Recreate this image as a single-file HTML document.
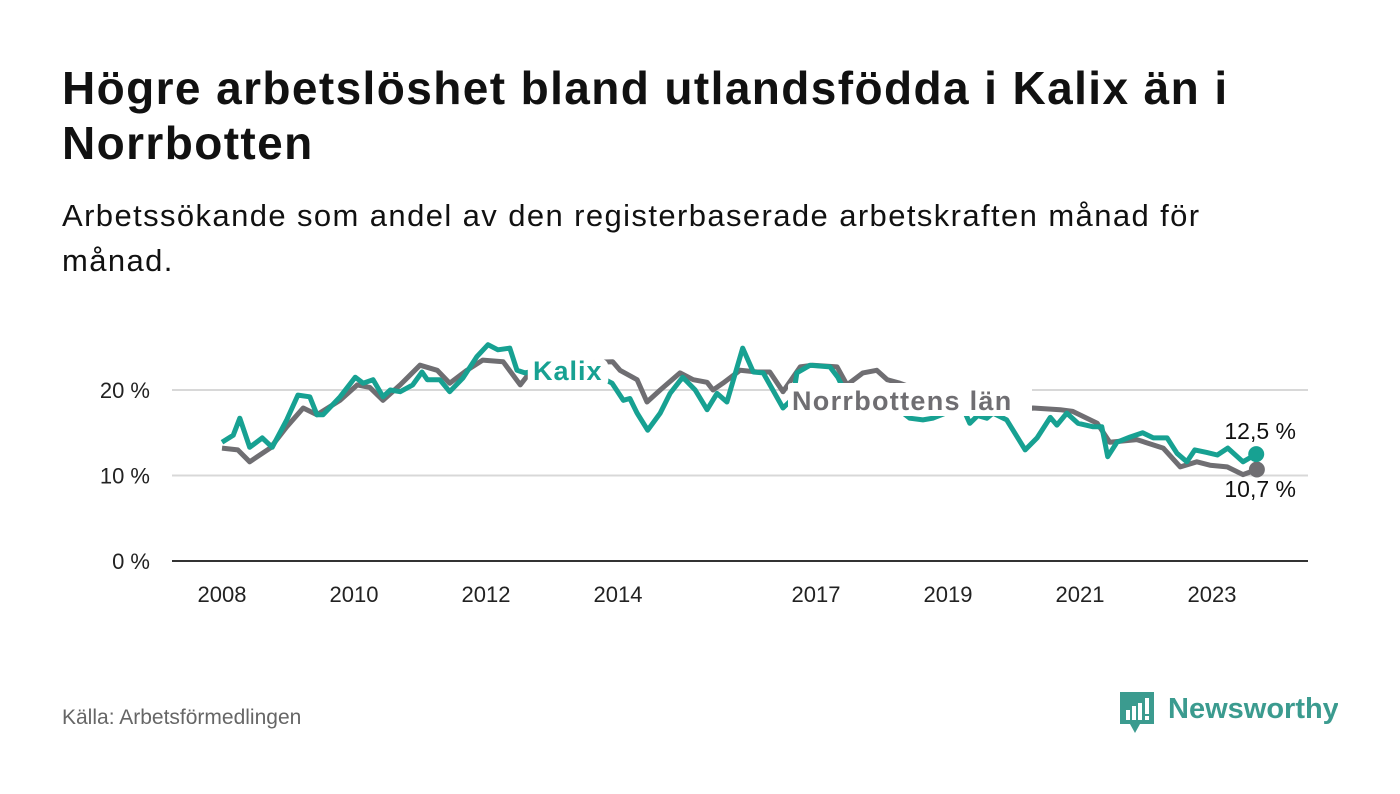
<!DOCTYPE html>
<html><head><meta charset="utf-8"><style>
body{margin:0;background:#fff;width:1400px;height:794px;overflow:hidden;font-family:"Liberation Sans",sans-serif;color:#111}
.t{position:absolute;left:62px;font-weight:bold;font-size:46px;letter-spacing:1.4px;line-height:55px;top:61px;color:#111;width:1330px;white-space:nowrap}
.s{position:absolute;left:62px;top:193px;font-size:31px;letter-spacing:1.4px;line-height:45px;color:#111;width:1330px;white-space:nowrap}
.src{position:absolute;left:62px;top:706px;font-size:21px;color:#666}
</style></head><body>
<div class="t">Högre arbetslöshet bland utlandsfödda i Kalix än i<br>Norrbotten</div>
<div class="s">Arbetssökande som andel av den registerbaserade arbetskraften månad för<br>månad.</div>
<div class="src">Källa: Arbetsförmedlingen</div>
<svg style="position:absolute;left:1118px;top:690px" width="220" height="48">
<path d="M2 2h34v32h-14l-5 9-5-9h-10z" fill="#3b9b8f"/>
<rect x="8" y="20" width="4" height="10" fill="#fff"/><rect x="14" y="16" width="4" height="14" fill="#fff"/><rect x="20" y="13" width="4" height="17" fill="#fff"/><rect x="27" y="8" width="4" height="16" fill="#fff"/><rect x="27" y="26" width="4" height="4" fill="#fff"/>
<text x="50" y="28" font-family="Liberation Sans" font-size="29" font-weight="bold" fill="#3b9b8f">Newsworthy</text>
</svg>
<svg id="c" width="1400" height="794" style="position:absolute;left:0;top:0"></svg>
<script>
const yTicks=[0,10,20];
const xTickYears=[2008,2010,2012,2014,2017,2019,2021,2023];
const kalixDates=[2008.00,2008.17,2008.27,2008.42,2008.61,2008.76,2008.98,2009.15,2009.33,2009.44,2009.53,2009.79,2010.02,2010.14,2010.29,2010.44,2010.55,2010.70,2010.89,2011.03,2011.11,2011.30,2011.45,2011.65,2011.86,2012.03,2012.18,2012.36,2012.47,2012.59,2012.9,2013.3,2013.6,2013.91,2014.08,2014.18,2014.29,2014.45,2014.64,2014.79,2014.98,2015.17,2015.35,2015.50,2015.65,2015.89,2016.05,2016.20,2016.50,2016.65,2016.71,2016.91,2017.21,2017.33,2017.52,2017.82,2018.12,2018.42,2018.62,2018.77,2019.03,2019.26,2019.33,2019.45,2019.59,2019.68,2019.89,2020.17,2020.35,2020.55,2020.65,2020.80,2020.97,2021.20,2021.33,2021.42,2021.56,2021.76,2021.95,2022.11,2022.32,2022.47,2022.62,2022.74,2022.92,2023.08,2023.24,2023.47,2023.67];
const kalixValues=[13.9,14.7,16.7,13.3,14.4,13.3,16.5,19.4,19.2,17.1,17.1,19.2,21.5,20.8,21.2,19.2,20,19.8,20.6,22.1,21.2,21.2,19.8,21.4,23.9,25.3,24.7,24.9,22.3,22,22.5,23,22,20.8,18.8,19,17.3,15.3,17.3,19.6,21.5,20,17.7,19.6,18.6,24.9,22.1,22,17.9,19,22,22.9,22.7,21.5,18.5,20.5,18.5,16.7,16.5,16.7,17.5,17.3,16.1,17,16.7,17.3,16.5,13,14.4,16.8,15.9,17.3,16.1,15.7,15.7,12.2,13.9,14.5,15,14.4,14.4,12.6,11.6,13,12.7,12.4,13.2,11.6,12.5];
const norrDates=[2008.00,2008.24,2008.42,2008.73,2008.98,2009.23,2009.44,2009.79,2010.05,2010.24,2010.44,2010.70,2011.00,2011.26,2011.45,2011.71,2011.95,2012.26,2012.52,2012.64,2013.0,2013.5,2013.92,2014.03,2014.29,2014.44,2014.64,2014.94,2015.14,2015.35,2015.44,2015.59,2015.85,2016.11,2016.30,2016.50,2016.76,2016.95,2017.32,2017.47,2017.71,2017.92,2018.08,2018.27,2018.73,2019.18,2019.64,2020.02,2020.29,2020.70,2020.89,2021.26,2021.45,2021.86,2022.26,2022.52,2022.77,2022.97,2023.23,2023.47,2023.68];
const norrValues=[13.2,13,11.6,13.2,15.7,17.9,17.1,18.8,20.6,20.3,18.8,20.6,22.9,22.3,20.8,22.3,23.5,23.3,20.6,21.8,23,23.2,23.3,22.3,21.2,18.6,20,22,21.2,20.9,20,20.8,22.3,22.1,22.1,19.8,22.7,22.9,22.7,20.6,22,22.3,21.2,20.8,19.5,18.5,18,17.5,17.9,17.7,17.5,16.1,13.9,14.2,13.2,11,11.6,11.2,11,10.1,10.7];
const NS="http://www.w3.org/2000/svg",svg=document.getElementById('c');
const X=t=>222+(t-2008)*66, Y=v=>561-v*8.55;
function mk(tag,at,txt){const e=document.createElementNS(NS,tag);for(const k in at)e.setAttribute(k,at[k]);if(txt!==undefined)e.textContent=txt;svg.appendChild(e);return e;}
yTicks.forEach(v=>{
 if(v>0){const g=mk('line',{x1:172,x2:1308,y1:Y(v),y2:Y(v),stroke:'#d8d8d8','stroke-width':2});
 
 }
 const l=mk('text',{x:150,y:Y(v)+8,'text-anchor':'end','font-size':22,fill:'#222'},v+' %');
 
 
});
const ax=mk('line',{x1:172,x2:1308,y1:561,y2:561,stroke:'#333','stroke-width':2});


xTickYears.forEach(y=>{
 const l=mk('text',{x:X(y),y:602,'text-anchor':'middle','font-size':22,fill:'#222'},String(y));
 
 
});
function line(d,v,col,name){
 const p=mk('path',{d:d.map((t,i)=>(i?'L':'M')+X(t).toFixed(1)+' '+Y(v[i]).toFixed(1)).join(''),fill:'none',stroke:col,'stroke-width':5,'stroke-linejoin':'round'});
 
 
 const c=mk('circle',{cx:X(d[d.length-1]),cy:Y(v[v.length-1]),r:8,fill:col});
 
 
}
line(norrDates,norrValues,'#6f6e72','norrbotten-line');
line(kalixDates,kalixValues,'#17a192','kalix-line');
const lk=mk('text',{x:533,y:380,'font-size':27,'font-weight':'bold',fill:'#17a192',stroke:'#fff','stroke-width':14,'paint-order':'stroke','stroke-linejoin':'round','letter-spacing':1},'Kalix');


const bg=mk('rect',{x:788,y:383,width:244,height:33,fill:'#fff',rx:3});


const ln=mk('text',{x:792,y:410,'font-size':27,'font-weight':'bold',fill:'#6f6e72','letter-spacing':1.3},'Norrbottens län');


const e1=mk('text',{x:1296,y:439,'text-anchor':'end','font-size':23,fill:'#111',stroke:'#fff','stroke-width':6,'paint-order':'stroke'},String(kalixValues[kalixValues.length-1]).replace('.',',')+' %');


const e2=mk('text',{x:1296,y:497,'text-anchor':'end','font-size':23,fill:'#111',stroke:'#fff','stroke-width':6,'paint-order':'stroke'},String(norrValues[norrValues.length-1]).replace('.',',')+' %');


</script>
</body></html>
